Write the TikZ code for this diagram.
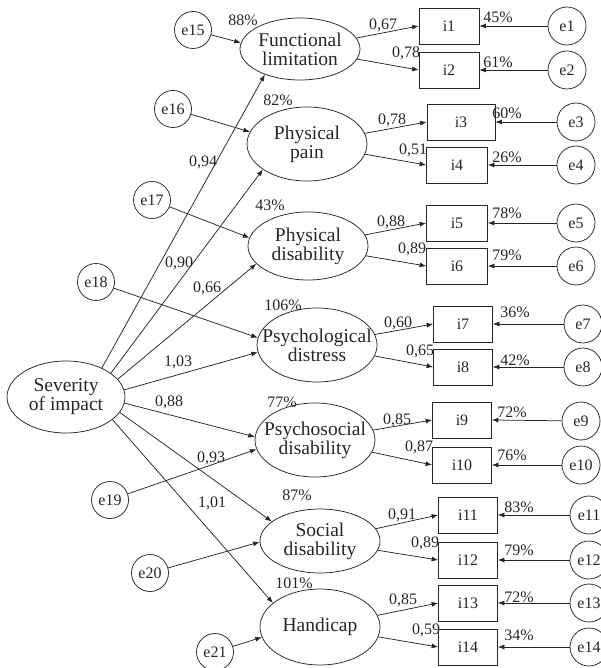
\documentclass[tikz,border=0pt]{standalone}
\usepackage{fontspec}
\setmainfont{Liberation Serif}
\usetikzlibrary{shapes.geometric,arrows.meta}
\begin{document}
\begin{tikzpicture}[x=1pt,y=-1pt,
  lat/.style={draw=black!85, line width=0.75pt, ellipse, inner sep=0pt, minimum width=120pt, minimum height=#1},
  lat/.default=68pt,
  ltxt/.style={font=\fontsize{19.5}{19}\selectfont, align=center, inner sep=0pt, text=black!85},
  obs/.style={draw=black!85, line width=0.75pt, rectangle, inner sep=0pt, minimum height=36pt, minimum width=#1, font=\fontsize{16}{16}\selectfont, text=black!85},
  obs/.default=60pt,
  err/.style={draw=black!85, line width=0.75pt, circle, inner sep=0pt, minimum size=#1, font=\fontsize{16}{16}\selectfont, text=black!85},
  err/.default=38pt,
  lab/.style={font=\fontsize{16}{16}\selectfont, inner sep=0pt, text=black!85},
  arr/.style={draw=black!85, line width=0.75pt, -{Latex[length=6.5pt,width=5pt]}},
]
\useasboundingbox (0,0) rectangle (601,668);

% latent variables
\node[lat=62pt, label={[ltxt]center:{Functional\\limitation}}] (fl) at (300,49) {};
\node[lat=74pt, label={[ltxt]center:{Physical\\pain}}] (pp) at (307,144) {};
\node[lat=68pt, label={[ltxt]center:{Physical\\disability}}] (pd) at (308,246) {};
\node[lat=74pt, label={[ltxt]center:{Psychological\\distress}}] (psd) at (317,345) {};
\node[lat=74pt, label={[ltxt]center:{Psychosocial\\disability}}] (pss) at (315,440) {};
\node[lat=64pt, label={[ltxt]center:{Social\\disability}}] (sd) at (320,541) {};
\node[lat=76pt, label={[ltxt]center:{Handicap}}] (hc) at (320,627) {};
\node[lat=72pt, minimum width=118pt, label={[ltxt]center:{Severity\\of impact}}] (sev) at (66,397) {};

% indicators
\node[obs] (i1) at (449,26) {i1};
\node[obs] (i2) at (449,70) {i2};
\node[obs=68pt] (i3) at (461,122) {i3};
\node[obs=61pt] (i4) at (457,165) {i4};
\node[obs=61pt] (i5) at (457,223) {i5};
\node[obs=61pt] (i6) at (457,266) {i6};
\node[obs=59pt] (i7) at (463,324) {i7};
\node[obs=59pt] (i8) at (463,367) {i8};
\node[obs=59pt] (i9) at (462,420) {i9};
\node[obs=59pt] (i10) at (462,465) {i10};
\node[obs=59pt] (i11) at (468,515) {i11};
\node[obs=59pt] (i12) at (468,560) {i12};
\node[obs=59pt] (i13) at (468,603) {i13};
\node[obs=59pt] (i14) at (468,647) {i14};

% indicator errors
\node[err] (e1) at (567,26) {e1};
\node[err] (e2) at (567,70) {e2};
\node[err] (e3) at (576,122) {e3};
\node[err] (e4) at (576,165) {e4};
\node[err] (e5) at (576,223) {e5};
\node[err] (e6) at (576,266) {e6};
\node[err] (e7) at (583,324) {e7};
\node[err] (e8) at (583,367) {e8};
\node[err] (e9) at (581,421) {e9};
\node[err] (e10) at (581,465) {e10};
\node[err] (e11) at (589,515) {e11};
\node[err] (e12) at (589,560) {e12};
\node[err] (e13) at (589,603) {e13};
\node[err] (e14) at (589,647) {e14};

% latent errors
\node[err=37pt] (e15) at (193,30) {e15};
\node[err=37pt] (e16) at (173,109) {e16};
\node[err=37pt] (e17) at (152,200) {e17};
\node[err=37pt] (e18) at (96,282) {e18};
\node[err=37pt] (e19) at (110,500) {e19};
\node[err=37pt] (e20) at (150,573) {e20};
\node[err=37pt] (e21) at (215,652) {e21};

% structural paths
\draw[arr] (sev.39) -- (fl.216);
\draw[arr] (sev.28) -- (pp.210);
\draw[arr] (sev.19) -- (pd.199);
\draw[arr] (sev.7) -- (psd.187);
\draw[arr] (sev.-6) -- (pss.177);
\draw[arr] (sev.-16) -- (sd.158);
\draw[arr] (sev.-26) -- (hc.153);

% latent error paths
\draw[arr] (e15) -- (fl.174);
\draw[arr] (e16) -- (pp.168);
\draw[arr] (e17) -- (pd.172);
\draw[arr] (e18) -- (psd.173);
\draw[arr] (e19) -- (pss.189);
\draw[arr] (e20) -- (sd.181);
\draw[arr] (e21) -- (hc.190);

% loadings
\draw[arr] (fl) -- (i1.west);
\draw[arr] (fl) -- (i2.west);
\draw[arr] (pp) -- (i3.west);
\draw[arr] (pp) -- (i4.west);
\draw[arr] (pd) -- (i5.west);
\draw[arr] (pd) -- (i6.west);
\draw[arr] (psd) -- (i7.west);
\draw[arr] (psd) -- (i8.west);
\draw[arr] (pss) -- (i9.west);
\draw[arr] (pss) -- (i10.west);
\draw[arr] (sd) -- (i11.west);
\draw[arr] (sd) -- (i12.west);
\draw[arr] (hc) -- (i13.west);
\draw[arr] (hc) -- (i14.west);

% indicator error paths
\foreach \k in {1,...,14} { \draw[arr] (e\k) -- (i\k.east); }

% structural coefficients
\node[lab] (c1) at (203,162) {0,94};
\node[lab] (c2) at (179,263) {0,90};
\node[lab] (c3) at (207,288) {0,66};
\node[lab] (c4) at (178,362) {1,03};
\node[lab] (c5) at (169,402) {0,88};
\node[lab] (c6) at (211,458) {0,93};
\node[lab] (c7) at (212,503) {1,01};

% latent R2
\node[lab] (r1) at (243,20) {88\%};
\node[lab] (r2) at (278,100) {82\%};
\node[lab] (r3) at (270,205) {43\%};
\node[lab] (r4) at (283,305) {106\%};
\node[lab] (r5) at (282,402) {77\%};
\node[lab] (r6) at (297,495) {87\%};
\node[lab] (r7) at (294,583) {101\%};

% loadings labels
\node[lab] (l1) at (383,25) {0,67};
\node[lab] (l2) at (406,53) {0,78};
\node[lab] (l3) at (392,120) {0,78};
\node[lab] (l4) at (413,150) {0,51};
\node[lab] (l5) at (391,222) {0,88};
\node[lab] (l6) at (412,249) {0,89};
\node[lab] (l7) at (398,323) {0,60};
\node[lab] (l8) at (420,351) {0,65};
\node[lab] (l9) at (397,420) {0,85};
\node[lab] (l10) at (419,447) {0,87};
\node[lab] (l11) at (402,515) {0,91};
\node[lab] (l12) at (425,543) {0,89};
\node[lab] (l13) at (403,600) {0,85};
\node[lab] (l14) at (426,630) {0,59};

% indicator R2
\node[lab] (q1) at (498,17) {45\%};
\node[lab] (q2) at (498,62) {61\%};
\node[lab] (q3) at (507,113) {60\%};
\node[lab] (q4) at (507,157) {26\%};
\node[lab] (q5) at (507,213) {78\%};
\node[lab] (q6) at (507,255) {79\%};
\node[lab] (q7) at (515,312) {36\%};
\node[lab] (q8) at (515,360) {42\%};
\node[lab] (q9) at (512,412) {72\%};
\node[lab] (q10) at (512,455) {76\%};
\node[lab] (q11) at (519,507) {83\%};
\node[lab] (q12) at (519,550) {79\%};
\node[lab] (q13) at (519,597) {72\%};
\node[lab] (q14) at (519,635) {34\%};
\end{tikzpicture}
\end{document}
